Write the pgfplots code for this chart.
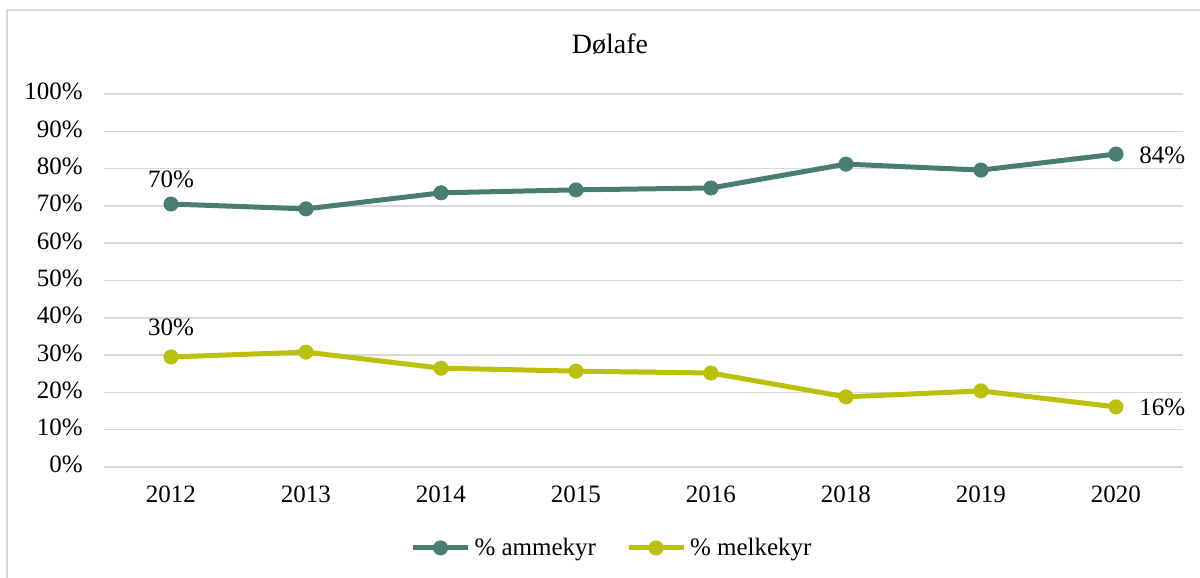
\documentclass[border=0pt]{standalone}
\usepackage{fontspec}
\setmainfont{Liberation Serif}
\usepackage{pgfplots}
\pgfplotsset{compat=1.18}

\definecolor{ammeteal}{HTML}{487D71}
\definecolor{melkgreen}{HTML}{BBC10A}
\definecolor{gridgray}{HTML}{D9D9D9}

\begin{document}
\begin{tikzpicture}
\useasboundingbox (0,0) rectangle (600pt,289pt);
% chart frame
\draw[gridgray, line width=1pt] (3.5pt,0pt) -- (3.5pt,284pt) -- (600pt,284pt);
% title
\node[font=\fontsize{14}{16}\selectfont, anchor=base] at (305pt,262pt) {Dølafe};

\begin{axis}[
  at={(51.75pt,55.5pt)}, anchor=south west,
  scale only axis, width=540pt, height=186.5pt,
  xmin=-0.5, xmax=7.5, ymin=0, ymax=100,
  axis line style={draw=none},
  major tick length=0pt,
  xtick={0,...,7},
  xticklabels={2012,2013,2014,2015,2016,2018,2019,2020},
  ytick={0,10,...,100},
  yticklabel={\pgfmathprintnumber{\tick}\%},
  /pgf/number format/assume math mode=true,
  ymajorgrids,
  grid style={gridgray, line width=0.75pt},
  tick label style={font=\fontsize{12.5}{14}\selectfont},
  yticklabel style={anchor=base east, inner sep=0pt, xshift=-10.25pt, yshift=-3pt},
  xticklabel style={anchor=base, inner sep=0pt, yshift=-18pt},
  clip=false,
  legend columns=2,
  legend style={at={(0.4718,-0.217)}, anchor=center, draw=none,
    font=\fontsize{12.5}{14}\selectfont,
    /tikz/every even column/.append style={column sep=13pt}},
  legend image code/.code={\draw[mark repeat=2,mark phase=2,#1]
    plot coordinates {(0pt,0pt) (13.75pt,0pt) (27.5pt,0pt)};},
]
\addplot[ammeteal, line width=2.5pt, mark=*, mark size=3.6pt,
  mark options={solid, line width=0.3pt}] coordinates {
  (0,70.5) (1,69.2) (2,73.5) (3,74.3) (4,74.8) (5,81.2) (6,79.6) (7,83.9)};
\addlegendentry{\% ammekyr}
\addplot[melkgreen, line width=2.5pt, mark=*, mark size=3.6pt,
  mark options={solid, line width=0.3pt}] coordinates {
  (0,29.5) (1,30.8) (2,26.5) (3,25.7) (4,25.2) (5,18.8) (6,20.4) (7,16.1)};
\addlegendentry{\% melkekyr}

\begin{scope}[font=\fontsize{12.5}{14}\selectfont]
\node[anchor=base, inner sep=0pt, yshift=8.5pt] at (axis cs:0,70.5) {70\%};
\node[anchor=base, inner sep=0pt, yshift=10.5pt] at (axis cs:0,29.5) {30\%};
\node[anchor=base west, inner sep=0pt, xshift=11.5pt, yshift=-4.5pt] at (axis cs:7,83.9) {84\%};
\node[anchor=base west, inner sep=0pt, xshift=11.5pt, yshift=-4.5pt] at (axis cs:7,16.1) {16\%};
\end{scope}
\end{axis}
\end{tikzpicture}
\end{document}
